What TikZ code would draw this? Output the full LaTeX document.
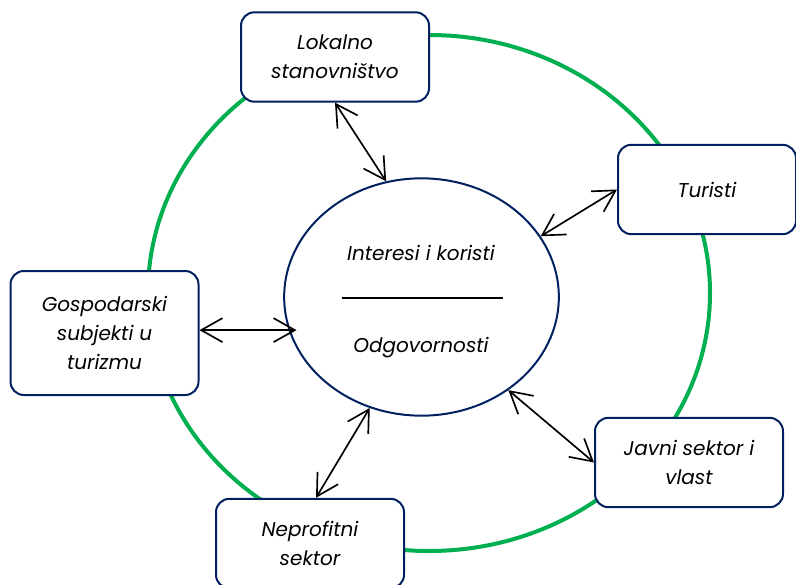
\documentclass[tikz,border=0pt]{standalone}
\usepackage{fontspec}
\setmainfont{Poppins}
\usetikzlibrary{arrows.meta,shapes.geometric}
\definecolor{navy}{RGB}{0,32,96}
\definecolor{ringgreen}{RGB}{0,176,80}
\begin{document}
\begin{tikzpicture}[
  x=0.75pt, y=-0.75pt,
  actor/.style={rectangle, rounded corners=10pt, draw=navy, line width=1.5pt, fill=white, minimum width=141pt, minimum height=67pt, align=center, font=\itshape\fontsize{15}{21.75}\selectfont},
  hub/.style={ellipse, draw=navy, line width=1.5pt, fill=white, minimum width=206pt, minimum height=178pt},
  ring/.style={ellipse, draw=ringgreen, line width=3pt, minimum width=421.5pt, minimum height=387pt},
  hubtext/.style={font=\itshape\fontsize{15}{21.75}\selectfont, anchor=base},
  link/.style={{Straight Barb[length=16pt,width=18pt]}-{Straight Barb[length=16pt,width=18pt]}, line width=1.25pt}
]
\useasboundingbox (0,0) rectangle (796,585);
\node[ring] (ring) at (429,293) {};
\node[hub] (core) at (421.5,297) {};
\node[hubtext] (gains) at (421,260) {Interesi i koristi};
\node[hubtext] (duties) at (421,352) {Odgovornosti};
\coordinate (rulel) at (342,298);
\coordinate (ruler) at (503,298);
\draw[line width=1.5pt] (rulel) -- (ruler);

\node[actor] (locals) at (335,57) {Lokalno\\stanovništvo};
\node[actor, minimum width=133.5pt] (tourists) at (707,189.5) {Turisti};
\node[actor, minimum height=93pt] (firms) at (104.5,333) {Gospodarski\\subjekti u\\turizmu};
\node[actor] (public) at (689,462.5) {Javni sektor i\\vlast};
\node[actor] (nonprofit) at (310,543.5) {Neprofitni\\sektor};

\draw[link] (locals.south) -- (core.107);
\draw[link] (tourists.west) -- (core.27);
\draw[link, shorten >=-6pt] (core.194 -| firms.east) -- (core.194);
\draw[link] (core.-47) -- (public.west);
\draw[link] ([xshift=4.5pt]nonprofit.north) -- (core.245);
\end{tikzpicture}
\end{document}
